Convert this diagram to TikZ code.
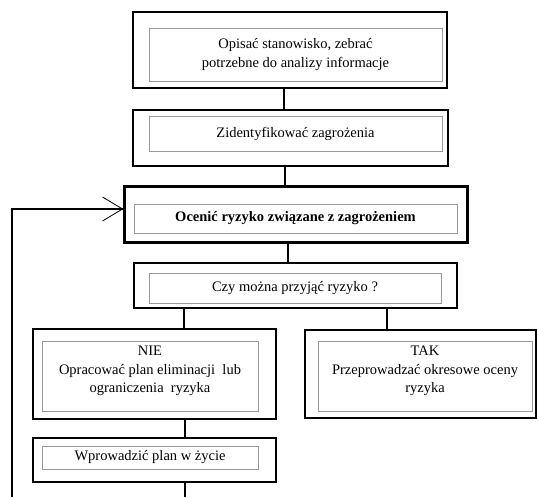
\documentclass[tikz,border=0pt]{standalone}
\usepackage{fontspec}
\setmainfont{Liberation Serif}
\usetikzlibrary{arrows.meta}
\begin{document}
\begin{tikzpicture}[x=1pt,y=-1pt,
  outerbox/.style={draw=black,line width=2.2pt,minimum width=#1,inner sep=0pt},
  innerbox/.style={draw=black!40,line width=0.6pt,align=center,inner sep=0pt,
    font=\fontsize{14.5}{18.5}\selectfont},
  txt/.style={align=center,inner sep=0pt,font=\fontsize{14.5}{18.5}\selectfont},
  conn/.style={line width=2.8pt}]
\useasboundingbox (0,0) rectangle (537,497);
% outer boxes
\node[outerbox=314pt,minimum height=76pt] (o1) at (290,50) {};
\node[outerbox=315pt,minimum height=56pt] (o2) at (290.5,138) {};
\node[outerbox=343pt,minimum height=56pt,line width=3pt] (o3) at (295.5,214) {};
\node[outerbox=323pt,minimum height=45pt] (o4) at (295.5,285.5) {};
\node[outerbox=243pt,minimum height=90pt] (o5) at (154.5,374) {};
\node[outerbox=231pt,minimum height=88pt] (o6) at (420.5,374) {};
\node[outerbox=243pt,minimum height=44pt] (o7) at (154.5,460) {};
% inner boxes
\node[innerbox,minimum width=293pt,minimum height=53pt] (i1) at (295.5,54.5)
  {Opisać stanowisko, zebrać\\potrzebne do analizy informacje};
\node[innerbox,minimum width=293pt,minimum height=35pt] (i2) at (295.5,133.5)
  {Zidentyfikować zagrożenia};
\node[innerbox,minimum width=323pt,minimum height=29pt] (i3) at (295.5,218.5)
  {\bfseries Ocenić ryzyko związane z zagrożeniem};
\node[innerbox,minimum width=292pt,minimum height=30pt] (i4) at (295,288)
  {Czy można przyjąć ryzyko ?};
\node[innerbox,minimum width=216pt,minimum height=70pt] (i5) at (150,376) {};
\node[txt] (t5) at (150,371)
  {NIE\\Opracować plan eliminacji\ \ lub\\ograniczenia\ \ ryzyka};
\node[innerbox,minimum width=214pt,minimum height=70pt] (i6) at (425,376) {};
\node[txt] (t6) at (425,371)
  {TAK\\Przeprowadzać okresowe oceny\\ryzyka};
\node[innerbox,minimum width=216pt,minimum height=23pt] (i7) at (150,457.5)
  {Wprowadzić plan w życie};
% connectors
\draw[conn] ([xshift=-6pt]o1.south) -- ([xshift=-6pt]o1.south |- o2.north);
\draw[conn] ([xshift=-5.5pt]o2.south) -- ([xshift=-5.5pt]o2.south |- o3.north);
\draw[conn] ([xshift=-7.5pt]o3.south) -- ([xshift=-7.5pt]o3.south |- o4.north);
\draw[conn] ([xshift=29.5pt]o5.north |- o4.south) -- ([xshift=29.5pt]o5.north);
\draw[conn] ([xshift=-33.5pt]o6.north |- o4.south) -- ([xshift=-33.5pt]o6.north);
\draw[conn] ([xshift=30.5pt]o5.south) -- ([xshift=30.5pt]o7.north);
\coordinate (bend) at (12,209);
\coordinate (bot) at (12,497);
\draw[conn] ([xshift=30.5pt]o7.south) -- ([xshift=30.5pt]o7.south |- bot);
\draw[conn] (bot) -- (bend) -- (bend -| o3.west);
\draw[line width=0.8pt] ([shift={(-20pt,-12pt)}]bend -| o3.west) -- (bend -| o3.west) -- ([shift={(-20pt,12pt)}]bend -| o3.west);
\end{tikzpicture}
\end{document}
